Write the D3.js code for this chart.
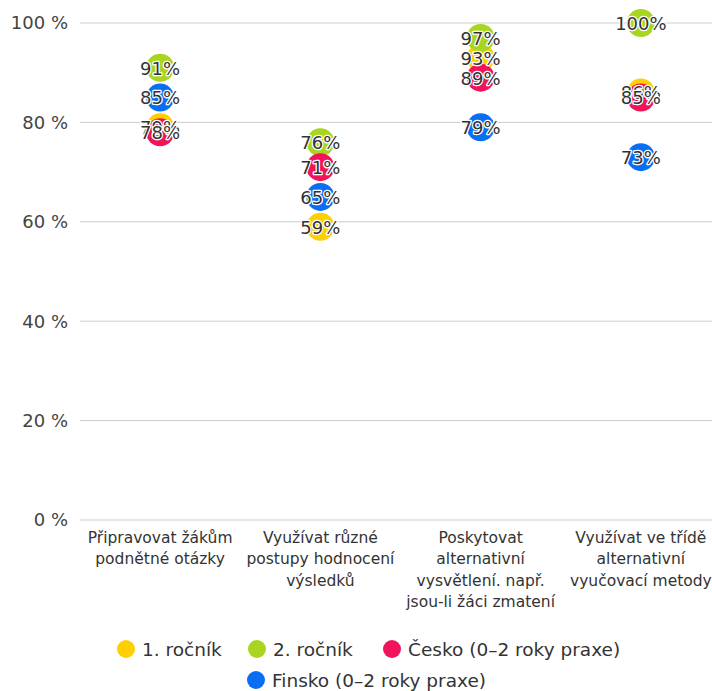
<!DOCTYPE html>
<html><head><meta charset="utf-8">
<script src="https://cdn.jsdelivr.net/npm/d3@7"></script>
<style>body{margin:0;background:#fff}svg{font-family:"DejaVu Sans",Verdana,sans-serif}</style>
</head><body><svg id="c" width="712" height="691"></svg>
<script>
const categories = [
  ["Připravovat žákům","podnětné otázky"],
  ["Využívat různé","postupy hodnocení","výsledků"],
  ["Poskytovat","alternativní","vysvětlení. např.","jsou-li žáci zmatení"],
  ["Využívat ve třídě","alternativní","vyučovací metody"]
];
const seriesNames = ["1. ročník","2. ročník","Česko (0–2 roky praxe)","Finsko (0–2 roky praxe)"];
const seriesColors = ["#FFD000","#A8D620","#F0145A","#0A6EF2"];
const rocnik1 = [79, 59, 93, 86];
const rocnik2 = [91, 76, 97, 100];
const cesko = [78, 71, 89, 85];
const finsko = [85, 65, 79, 73];
const yTicks = [0,20,40,60,80,100];

const seriesValues = [rocnik1, rocnik2, cesko, finsko];
const svg = d3.select("#c");
const x = d3.scaleBand().domain(d3.range(categories.length)).range([80, 721]);
const y = d3.scaleLinear().domain([0,100]).range([520, 23]);

// grid
svg.append("g").selectAll("line").data(yTicks).join("line")
  .attr("x1", 80).attr("x2", 712).attr("y1", d=>y(d)).attr("y2", d=>y(d))
  .attr("stroke", "#cccccc").attr("stroke-width", 1);

// y axis labels
svg.append("g").selectAll("text").data(yTicks).join("text")
  .attr("x", 68).attr("y", d=>y(d)).attr("dy","0.35em")
  .attr("text-anchor","end").attr("font-size",18).attr("fill","#444")
  .text(d=>d+" %");

// category labels
const cg = svg.append("g");
categories.forEach((lines,i)=>{
  const t = cg.append("text").attr("text-anchor","middle").attr("font-size",15.5).attr("fill","#333");
  lines.forEach((l,j)=>{
    t.append("tspan").attr("x", x(i)+x.bandwidth()/2).attr("y", 543 + j*21.3).text(l);
  });
});

// points
const pts = [];
seriesValues.forEach((vals,s)=>vals.forEach((v,i)=>pts.push({s,i,v})));
svg.append("g").selectAll("circle").data(pts).join("circle")
  .attr("cx", d=>x(d.i)+x.bandwidth()/2).attr("cy", d=>y(d.v)).attr("r", 14)
  .attr("fill", d=>seriesColors[d.s]);

svg.append("g").selectAll("text").data(pts).join("text")
  .attr("x", d=>x(d.i)+x.bandwidth()/2).attr("y", d=>y(d.v)).attr("dy","0.38em")
  .attr("text-anchor","middle").attr("font-size",18).attr("fill","#333")
  .attr("stroke","#fff").attr("stroke-width",2.5).attr("paint-order","stroke").attr("stroke-linejoin","round")
  .text(d=>d.v+"%");

// legend
const legendPos = [[126,649],[257,649],[392,649],[256,680]];
const lg = svg.append("g");
seriesNames.forEach((n,s)=>{
  const [lx,ly] = legendPos[s];
  lg.append("circle").attr("cx",lx).attr("cy",ly).attr("r",9).attr("fill",seriesColors[s]);
  lg.append("text").attr("x",lx+16).attr("y",ly).attr("dy","0.36em").attr("font-size",18.5).attr("fill","#333").text(n);
});
</script></body></html>
